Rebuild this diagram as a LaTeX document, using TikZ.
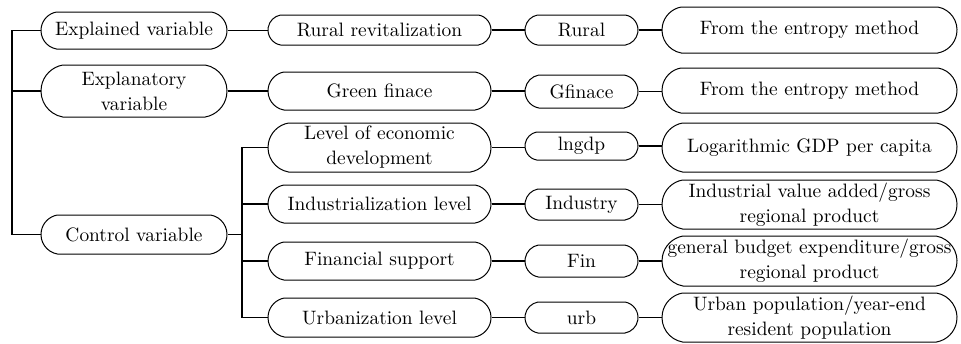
\documentclass[tikz,border=0pt]{standalone}
\usetikzlibrary{shapes.misc}

\begin{document}
\begin{tikzpicture}[
    x=0.5pt, y=-0.5pt,
    box/.style={draw, line width=0.5pt, rounded rectangle,
        rounded rectangle arc length=160, align=center, inner sep=1pt,
        font=\fontsize{9.7}{12.5}\selectfont},
    catbox/.style={box, minimum width=95pt},
    varbox/.style={box, minimum width=113.5pt},
    symbox/.style={box, minimum width=58.5pt},
    defbox/.style={box, minimum width=149.5pt},
    link/.style={line width=0.8pt},
]
\useasboundingbox (0,0) rectangle (961,343);

% Variable categories
\node[catbox, minimum height=18.5pt] (expd) at (134,30.5) {Explained variable};
\node[catbox, minimum height=26pt]   (expn) at (134,91)   {Explanatory\\variable};
\node[catbox, minimum height=19.5pt] (ctrl) at (134,234.5) {Control variable};

% Variables
\node[varbox, minimum height=15pt]   (rural) at (379.5,30)    {Rural revitalization};
\node[varbox, minimum height=19pt]   (green) at (379.5,91)    {Green finace};
\node[varbox, minimum height=24.5pt] (econ)  at (379.5,147.5) {Level of economic\\development};
\node[varbox, minimum height=19pt]   (indl)  at (379.5,204)   {Industrialization level};
\node[varbox, minimum height=19pt]   (fsup)  at (379.5,261)   {Financial support};
\node[varbox, minimum height=19.5pt] (urbl)  at (379.5,317.5) {Urbanization level};

% Symbols
\node[symbox, minimum height=15pt]   (s1) at (581.5,30)    {Rural};
\node[symbox, minimum height=16.5pt] (s2) at (581.5,91.5)  {Gfinace};
\node[symbox, minimum height=14pt]   (s3) at (581.5,146)   {lngdp};
\node[symbox, minimum height=15.5pt] (s4) at (581.5,204.5) {Industry};
\node[symbox, minimum height=16pt]   (s5) at (581.5,261)   {Fin};
\node[symbox, minimum height=15.5pt] (s6) at (581.5,317.5) {urb};

% Definitions
\node[defbox, minimum height=23pt]   (d1) at (809.5,30)    {From the entropy method};
\node[defbox, minimum height=22.5pt] (d2) at (809.5,90.5)  {From the entropy method};
\node[defbox, minimum height=24.5pt] (d3) at (809.5,147.5) {Logarithmic GDP per capita};
\node[defbox, minimum height=24.5pt] (d4) at (809.5,204.5) {Industrial value added/gross\\regional product};
% long first line runs into the arcs
\node[defbox, minimum height=25pt]   (d5) at (809.5,261)
    {\makebox[128pt]{general budget expenditure/gross}\\regional product};
\node[defbox, minimum height=24.5pt] (d6) at (809.5,317.5) {Urban population/year-end\\resident population};

% Main trunk
\coordinate (root) at (12,30.5);
\draw[link] (expd.west) -- (root) |- (ctrl.west);
\draw[link] (expn.west) -- (expn.west -| root);

% Control variable branch
\coordinate (fork) at (242,234.5);
\draw[link] (ctrl.east) -- (fork);
\foreach \v in {econ,indl,fsup,urbl}
    \draw[link] (\v.west) -| (fork);

\draw[link] (expd.east) -- (expd.east -| rural.west);
\draw[link] (expn.east) -- (expn.east -| green.west);

% Rows
\foreach \v/\s/\d in {rural/s1/d1, green/s2/d2, econ/s3/d3,
                      indl/s4/d4, fsup/s5/d5, urbl/s6/d6} {
    \draw[link] (\v.east) -- (\v.east -| \s.west);
    \draw[link] (\s.east) -- (\s.east -| \d.west);
}

\end{tikzpicture}
\end{document}
